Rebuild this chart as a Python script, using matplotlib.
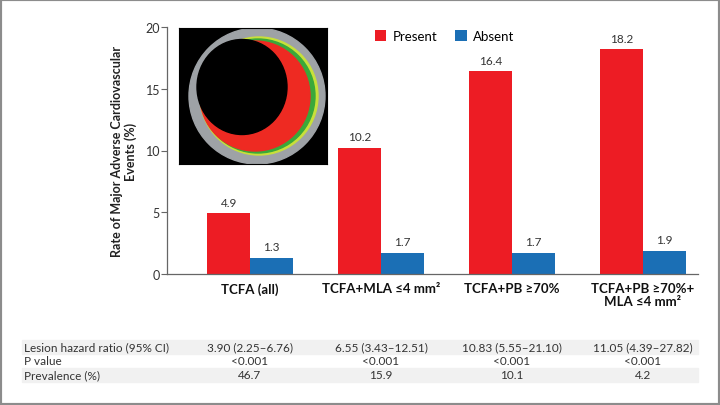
import numpy as np
import matplotlib
matplotlib.use("Agg")
import matplotlib.pyplot as plt
from matplotlib.patches import Rectangle, Circle, Ellipse
from matplotlib.transforms import blended_transform_factory

plt.rcParams['font.family'] = ['Lato', 'DejaVu Sans']

# data
categories = ["TCFA (all)", "TCFA+MLA ≤4 mm²", "TCFA+PB ≥70%", "TCFA+PB ≥70%+\nMLA ≤4 mm²"]
present = [4.9, 10.2, 16.4, 18.2]
absent = [1.3, 1.7, 1.7, 1.9]
row_labels = ["Lesion hazard ratio (95% CI)", "P value", "Prevalence (%)"]
hazard = ["3.90 (2.25\u20136.76)", "6.55 (3.43\u201312.51)", "10.83 (5.55\u201321.10)", "11.05 (4.39\u201327.82)"]
pvals = ["<0.001", "<0.001", "<0.001", "<0.001"]
prevalence = ["46.7", "15.9", "10.1", "4.2"]
yticks = [0, 5, 10, 15, 20]

RED = '#ED1C24'
BLUE = '#1B6FB5'
TXT = '#333333'
W, H = 720, 406

fig = plt.figure(figsize=(W / 100, H / 100), dpi=100)
ax = fig.add_axes([167 / W, 1 - 275 / H, (698 - 167) / W, (275 - 28) / H])

x = np.arange(len(categories))
bw = 0.325
b1 = ax.bar(x - bw / 2, present, bw, color=RED, label="Present")
b2 = ax.bar(x + bw / 2, absent, bw, color=BLUE, label="Absent")
for bars in (b1, b2):
    for b in bars:
        ax.annotate(f"{b.get_height():.1f}", (b.get_x() + b.get_width() / 2, b.get_height()),
                    xytext=(0, 4), textcoords='offset points', ha='center', va='bottom',
                    fontsize=8.5, color=TXT)

ax.set_xlim(-0.634, 3.42)
ax.set_ylim(0, 20)
ax.set_yticks(yticks)
ax.set_xticks(x)
ax.set_xticklabels(categories, fontsize=9.5, fontweight='bold', color='#111111', linespacing=1.1)
ax.tick_params(axis='x', length=0, pad=6)
ax.tick_params(axis='y', length=4, width=0.8, color='#666666', labelsize=9, labelcolor=TXT, pad=1)
for s in ('top', 'right'):
    ax.spines[s].set_visible(False)
for s in ('left', 'bottom'):
    ax.spines[s].set_color('#666666')
    ax.spines[s].set_linewidth(0.9)
ax.set_ylabel("Rate of Major Adverse Cardiovascular\nEvents (%)", fontsize=9,
              fontweight='bold', color='#222222', linespacing=1.15, labelpad=6)

ax.legend(loc='upper left', bbox_to_anchor=(368 / W, 1 - 24 / H), bbox_transform=fig.transFigure,
          ncol=2, frameon=False, fontsize=9.5, handlelength=0.9, handleheight=0.9,
          handletextpad=0.5, columnspacing=1.3, borderpad=0)

# IVUS inset picture
ins = fig.add_axes([179 / W, 1 - 165 / H, 148 / W, 136 / H])
ins.set_xlim(0, 148)
ins.set_ylim(0, 136)
ins.set_facecolor('black')
ins.set_xticks([])
ins.set_yticks([])
ins.add_patch(Circle((78, 68), 68, color='#9ea2a6'))
ins.add_patch(Circle((80, 68), 59, color='#c8e03a'))
ins.add_patch(Circle((79, 68), 57, color='#3aa83a'))
ins.add_patch(Circle((76, 68), 55, color='#ee2a22'))
ins.add_patch(Ellipse((63, 77), 90, 95, color='black'))

# table below
tr = blended_transform_factory(ax.transData, fig.transFigure)
rows = [hazard, pvals, prevalence]
row_top = 341
row_h = 14
for i, (lab, vals) in enumerate(zip(row_labels, rows)):
    y0 = row_top + i * row_h
    if i % 2 == 0:
        fig.patches.append(Rectangle((22 / W, 1 - (y0 + row_h) / H), (698 - 22) / W, row_h / H,
                                     transform=fig.transFigure, color='#f1f1f1', zorder=0))
    yc = 1 - (y0 + row_h / 2) / H
    fig.text(24 / W, yc, lab, fontsize=8.5, color=TXT, va='center', ha='left')
    for xi, v in zip(x, vals):
        fig.text(xi, yc, v, transform=tr, fontsize=8.5, color=TXT, va='center', ha='center')

fig.patches.append(Rectangle((0, 0), 1, 1, transform=fig.transFigure, fill=False,
                             edgecolor='#8c8c8c', linewidth=3))

fig.savefig("out.png", dpi=100)
